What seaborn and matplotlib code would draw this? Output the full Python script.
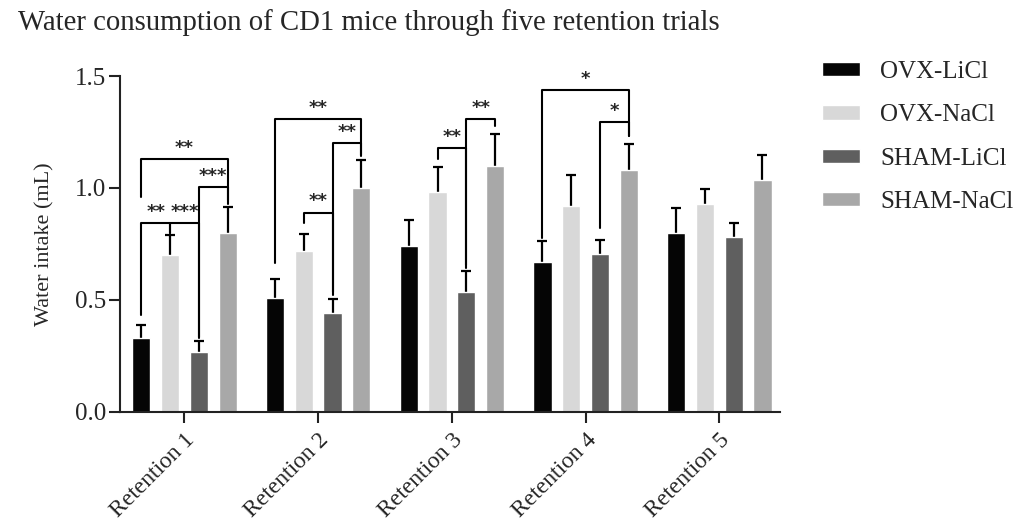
import numpy as np
import pandas as pd
import matplotlib.pyplot as plt
import seaborn as sns

trials = ["Retention 1", "Retention 2", "Retention 3", "Retention 4", "Retention 5"]
groups = ["OVX-LiCl", "OVX-NaCl", "SHAM-LiCl", "SHAM-NaCl"]
colors = ["#050505", "#d8d8d8", "#5f5f5f", "#a8a8a8"]

# mean water intake (mL) per trial
ovx_licl = [0.33, 0.51, 0.74, 0.67, 0.80]
ovx_nacl = [0.70, 0.72, 0.98, 0.92, 0.93]
sham_licl = [0.265, 0.44, 0.535, 0.705, 0.78]
sham_nacl = [0.80, 1.00, 1.10, 1.08, 1.035]

# upper error (SEM)
ovx_licl_sem = [0.055, 0.083, 0.116, 0.095, 0.112]
ovx_nacl_sem = [0.09, 0.075, 0.112, 0.137, 0.065]
sham_licl_sem = [0.051, 0.062, 0.093, 0.063, 0.065]
sham_nacl_sem = [0.113, 0.126, 0.14, 0.118, 0.112]

# significance brackets: trial, group a, group b, bracket y, leg end a, leg end b, label
sig_trial = [0, 0, 0, 0, 1, 1, 1, 2, 2, 3, 3]
sig_a = [0, 1, 2, 0, 0, 1, 2, 1, 2, 0, 2]
sig_b = [1, 2, 3, 3, 3, 2, 3, 2, 3, 3, 3]
sig_y = [0.845, 0.845, 1.005, 1.13, 1.31, 0.89, 1.20, 1.18, 1.308, 1.439, 1.294]
sig_leg_a = [0.43, 0.80, 0.33, 0.96, 0.665, 0.843, 0.536, 1.13, 0.656, 0.777, 0.823]
sig_leg_b = [0.80, 0.335, 0.93, 0.945, 1.145, 0.52, 1.148, 0.642, 1.278, 1.233, 1.233]
sig_label = ["**", "***", "***", "**", "**", "**", "**", "**", "**", "*", "*"]

means = [ovx_licl, ovx_nacl, sham_licl, sham_nacl]
sems = [ovx_licl_sem, ovx_nacl_sem, sham_licl_sem, sham_nacl_sem]

rows = []
for g, vals in zip(groups, means):
    for t, v in zip(trials, vals):
        rows.append({"trial": t, "group": g, "intake": v})
df = pd.DataFrame(rows)

sns.set_style("ticks")
plt.rcParams['font.family'] = ['Liberation Serif', 'DejaVu Serif']

fig, ax = plt.subplots(figsize=(10.19, 5.29), dpi=100)
fig.subplots_adjust(left=0.118, right=0.765, top=0.856, bottom=0.222)

sns.barplot(data=df, x="trial", y="intake", hue="group", hue_order=groups,
            palette=colors, saturation=1, width=0.86, gap=0.37,
            errorbar=None, ax=ax, zorder=2)
bars = list(ax.containers)

# error bars: symmetric, drawn behind the bars so only the upper half shows
for h, cont in enumerate(bars):
    for c, bar in enumerate(cont):
        xc = bar.get_x() + bar.get_width() / 2
        ax.errorbar(xc, bar.get_height(), yerr=sems[h][c], fmt='none',
                    ecolor='black', elinewidth=1.6, capsize=3.8, capthick=1.6, zorder=1)

# significance brackets
for i in range(len(sig_trial)):
    t = sig_trial[i]
    ba = bars[sig_a[i]][t]
    bb = bars[sig_b[i]][t]
    xa = ba.get_x() + ba.get_width() / 2
    xb = bb.get_x() + bb.get_width() / 2
    y = sig_y[i]
    ax.plot([xa, xa, xb, xb], [sig_leg_a[i], y, y, sig_leg_b[i]],
            color='black', lw=1.5, clip_on=False, zorder=4)
    ax.annotate(sig_label[i], ((xa + xb) / 2, y), xytext=(0, 8),
                textcoords='offset points', ha='center', va='center',
                fontsize=13, fontweight='bold', family='DejaVu Sans',
                annotation_clip=False)

ax.set_ylim(0, 1.5)
ax.set_xlim(-0.48, 4.45)
ax.set_yticks([0, 0.5, 1.0, 1.5])
ax.set_yticklabels(["0.0", "0.5", "1.0", "1.5"])
ax.set_xticks(range(len(trials)))
ax.set_xticklabels(trials, rotation=45, ha='right', rotation_mode='anchor')
ax.set_xlabel("")
ax.set_ylabel("Water intake (mL)", fontsize=16, labelpad=15)
ax.tick_params(axis='both', length=8, width=1.5, color='#222222', pad=2)
ax.tick_params(axis='y', labelsize=18)
ax.tick_params(axis='x', labelsize=17, pad=5)
sns.despine(ax=ax)
for s in ["left", "bottom"]:
    ax.spines[s].set_linewidth(1.5)
    ax.spines[s].set_color('#222222')

sns.move_legend(ax, "upper left", bbox_to_anchor=(1.065, 1.045), frameon=False,
                title=None, fontsize=18, borderaxespad=0, borderpad=0,
                handlelength=1.5, handleheight=0.5, labelspacing=0.85,
                handletextpad=0.8)

fig.text(0.018, 0.958, "Water consumption of CD1 mice through five retention trials",
         ha='left', va='center', fontsize=20.7)

fig.savefig("out.png", dpi=100)
